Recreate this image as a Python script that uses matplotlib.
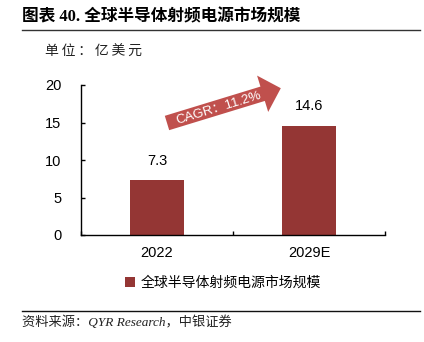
import matplotlib
matplotlib.use("Agg")
import matplotlib.pyplot as plt
from matplotlib.patches import Polygon, Patch
from matplotlib.lines import Line2D
import numpy as np

categories = ["2022", "2029E"]
values = [7.3, 14.6]
series_name = "全球半导体射频电源市场规模"
yticks = [0, 5, 10, 15, 20]
title = "图表 40. 全球半导体射频电源市场规模"
unit = "单位：亿美元"
source = "资料来源：QYR Research，中银证券"
cagr = "CAGR：11.2%"

W, H = 424, 342
bar_color = "#943634"
arrow_color = "#C0504D"
sans = ["Liberation Sans", "Noto Sans CJK SC", "DejaVu Sans"]
serif = ["Liberation Serif", "Noto Sans CJK SC", "DejaVu Sans"]
cjk = ["Noto Sans CJK SC", "DejaVu Sans"]
plt.rcParams["font.family"] = sans

fig = plt.figure(figsize=(W / 100, H / 100), dpi=100)

def fx(px):
    return px / W

def fy(py):
    return 1 - py / H

ax = fig.add_axes([fx(81), fy(235), fx(385) - fx(81), fy(85) - fy(235)])
x = np.arange(len(categories))
bars = ax.bar(x, values, width=0.355, color=bar_color, zorder=2)
ax.set_xlim(-0.5, len(categories) - 0.5)
ax.set_ylim(0, 20)
ax.set_yticks(yticks)
ax.set_yticklabels([str(t) for t in yticks], fontsize=10.5)
ax.set_xticks(x)
ax.set_xticklabels(categories, fontsize=10.5)
ax.set_xticks(np.arange(-0.5, len(categories), 1.0), minor=True)
ax.tick_params(axis="x", which="major", length=0, pad=8)
ax.tick_params(axis="x", which="minor", direction="in", length=3, width=1)
ax.tick_params(axis="y", direction="in", length=3, width=1, pad=14)
for s in ["top", "right"]:
    ax.spines[s].set_visible(False)
for s in ["left", "bottom"]:
    ax.spines[s].set_linewidth(1)
for b, v in zip(bars, values):
    ax.annotate(f"{v}", (b.get_x() + b.get_width() / 2, v), xytext=(0, 9),
                textcoords="offset points", ha="center", va="bottom", fontsize=10.5)

# title and rules
fig.text(fx(22), fy(17), title, fontsize=12, fontweight="bold", family=serif, va="center", ha="left")
fig.add_artist(Line2D([fx(22), fx(420)], [fy(29.5), fy(29.5)], color="#333333", lw=1))
fig.text(fx(45), fy(52), "\u2009".join(unit), fontsize=10, family=["Noto Sans CJK SC", "DejaVu Sans"],
         va="center", ha="left", color="#222222")

# arrow polygon in pixel coords (annotation decoration)
tail = np.array([167.0, 123.0])
ang_deg = 17.0
length = 119.0
s_, c_ = np.sin(np.radians(ang_deg)), np.cos(np.radians(ang_deg))
u = np.array([c_, -s_])
n = np.array([-s_, -c_])  # perpendicular, pointing up in image coords
tip = tail + u * length
sw = 15.0 / 2
hw = 38.0 / 2
hl = 19.0
base = tip - u * hl
pts = [tail + n * sw, base + n * sw, base + n * hw, tip, base - n * hw, base - n * sw, tail - n * sw]
pts_f = [(fx(p[0]), fy(p[1])) for p in pts]
fig.add_artist(Polygon(pts_f, closed=True, facecolor=arrow_color, edgecolor="none", transform=fig.transFigure))
mid = tail + u * 54 - n * 4.5
fig.text(fx(mid[0]), fy(mid[1]), cagr, color="white", fontsize=9.5, rotation=ang_deg,
         rotation_mode="anchor", ha="center", va="baseline", family=sans)

# legend
fig.legend(handles=[Patch(facecolor=bar_color, edgecolor="none")], labels=[series_name],
           loc="center", bbox_to_anchor=(fx(223), fy(283)), frameon=False,
           handlelength=0.7, handleheight=0.7, handletextpad=0.4,
           prop={"family": cjk, "size": 10})

fig.add_artist(Line2D([fx(22), fx(420)], [fy(311), fy(311)], color="#111111", lw=1))
fig.text(fx(22), fy(322), source, fontsize=9.5, style="italic", family=serif, va="center", ha="left", color="#222222")

fig.savefig("out.png", dpi=100)
